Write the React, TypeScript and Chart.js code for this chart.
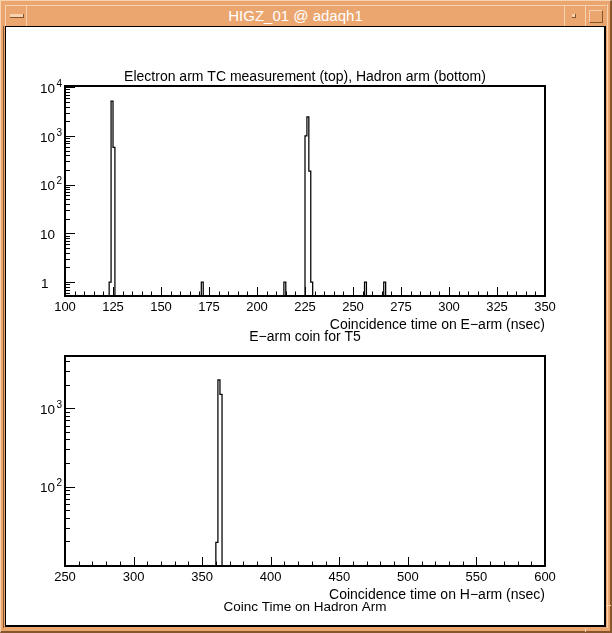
import React, { useEffect, useRef } from "react";
import { Chart, registerables } from "chart.js";

Chart.register(...registerables);

// ---------- data ----------
// Top histogram (E-arm coincidence time, 1 ns bins): non-empty bins
const topBinLow = [123, 124, 125, 171, 214, 225, 226, 227, 228, 256, 266];
const topBinCount = [1, 5200, 585, 1, 1, 1000, 2450, 190, 1, 1, 1];
const topBinWidth = 1;

// Bottom histogram (H-arm coincidence time): non-empty bins
const bottomBinLow = [360, 361.5, 363];
const bottomBinCount = [19.5, 2300, 1510];
const bottomBinWidth = 1.5;

// Axis ticks / labels
const topXTickValues = [100, 125, 150, 175, 200, 225, 250, 275, 300, 325, 350];
const topXTickLabels = ["100", "125", "150", "175", "200", "225", "250", "275", "300", "325", "350"];
const topYTickValues = [1, 10, 100, 1000, 10000];
const topYTickLabels = ["1", "10", "10^2", "10^3", "10^4"];

const bottomXTickValues = [250, 300, 350, 400, 450, 500, 550, 600];
const bottomXTickLabels = ["250", "300", "350", "400", "450", "500", "550", "600"];
const bottomYTickValues = [100, 1000];
const bottomYTickLabels = ["10^2", "10^3"];

// Texts
const windowTitle = "HIGZ_01 @ adaqh1";
const topTitle = "Electron arm TC measurement (top), Hadron arm (bottom)";
const topAxisTitle = "Coincidence time on E\u2212arm (nsec)";
const bottomTitle = "E\u2212arm coin for T5";
const bottomAxisTitle = "Coincidence time on H\u2212arm (nsec)";
const bottomCaption = "Coinc Time on Hadron Arm";

const FONT = '"Liberation Sans", Helvetica, Arial, sans-serif';

type TextSpec = { text: string; align: "center" | "right"; dy: number; from: "top" | "bottom"; size: number };

type Spec = {
  binLow: number[];
  binCount: number[];
  binWidth: number;
  xMin: number;
  xMax: number;
  yMin: number;
  yMax: number;
  xMinorStep: number;
  xTickValues: number[];
  xTickLabels: string[];
  yTickValues: number[];
  yTickLabels: string[];
  padding: { left: number; right: number; top: number; bottom: number };
  texts: TextSpec[];
  tickLabelDy: number;
};

function buildOutline(lows: number[], counts: number[], width: number, base: number) {
  const pts: { x: number; y: number }[] = [];
  for (let i = 0; i < lows.length; i++) {
    const lo = lows[i];
    const hi = lo + width;
    const contiguousPrev = i > 0 && Math.abs(lows[i - 1] + width - lo) < 1e-9;
    if (!contiguousPrev) pts.push({ x: lo, y: base });
    pts.push({ x: lo, y: counts[i] });
    pts.push({ x: hi, y: counts[i] });
    const contiguousNext = i < lows.length - 1 && Math.abs(hi - lows[i + 1]) < 1e-9;
    if (!contiguousNext) pts.push({ x: hi, y: base });
  }
  return pts;
}

function minorLogTicks(min: number, max: number) {
  const out: number[] = [];
  for (let e = Math.floor(Math.log10(min)); e <= Math.ceil(Math.log10(max)); e++) {
    for (let m = 2; m <= 9; m++) {
      const v = m * Math.pow(10, e);
      if (v > min && v < max) out.push(v);
    }
  }
  return out;
}

function makePlugin(spec: Spec) {
  return {
    id: "higzDecor",
    afterDraw(chart: any) {
      const { ctx, chartArea: a, scales } = chart;
      const xs = scales.x;
      const ys = scales.y;
      ctx.save();
      ctx.strokeStyle = "#000";
      ctx.fillStyle = "#000";
      ctx.lineWidth = 1;
      ctx.beginPath();
      // x ticks
      for (let v = spec.xMin; v <= spec.xMax + 1e-9; v += spec.xMinorStep) {
        const px = Math.round(xs.getPixelForValue(v)) + 0.5;
        const major = spec.xTickValues.some((t) => Math.abs(t - v) < 1e-9);
        ctx.moveTo(px, a.bottom);
        ctx.lineTo(px, a.bottom - (major ? 9 : 4.5));
      }
      // y ticks
      for (const v of minorLogTicks(spec.yMin, spec.yMax)) {
        const py = Math.round(ys.getPixelForValue(v)) + 0.5;
        ctx.moveTo(a.left, py);
        ctx.lineTo(a.left + 5, py);
      }
      for (const v of spec.yTickValues) {
        const py = Math.round(ys.getPixelForValue(v)) + 0.5;
        ctx.moveTo(a.left, py);
        ctx.lineTo(a.left + 10, py);
      }
      ctx.stroke();
      // frame
      ctx.lineWidth = 2;
      ctx.strokeRect(a.left, a.top, a.right - a.left, a.bottom - a.top);

      // x tick labels
      ctx.font = `13px ${FONT}`;
      ctx.textBaseline = "middle";
      ctx.textAlign = "center";
      spec.xTickValues.forEach((v, i) => {
        ctx.fillText(spec.xTickLabels[i], xs.getPixelForValue(v), a.bottom + spec.tickLabelDy);
      });
      // y tick labels
      ctx.textAlign = "left";
      spec.yTickValues.forEach((v, i) => {
        const py = ys.getPixelForValue(v);
        const [base, exp] = spec.yTickLabels[i].split("^");
        const lx = a.left - 25;
        ctx.font = `13.5px ${FONT}`;
        ctx.fillText(base, base === "1" ? lx + 1 : lx, py + 2);
        if (exp) {
          const w = ctx.measureText(base).width;
          ctx.font = `10px ${FONT}`;
          ctx.fillText(exp, lx + w + 1.5, py - 3);
        }
      });
      // titles
      for (const t of spec.texts) {
        ctx.font = `${t.size}px ${FONT}`;
        const y = (t.from === "top" ? a.top : a.bottom) + t.dy;
        if (t.align === "center") {
          ctx.textAlign = "center";
          ctx.fillText(t.text, (a.left + a.right) / 2, y);
        } else {
          ctx.textAlign = "right";
          ctx.fillText(t.text, a.right, y);
        }
      }
      ctx.restore();
    },
  };
}

function Histo({ spec, left, top, width, height }: { spec: Spec; left: number; top: number; width: number; height: number }) {
  const ref = useRef<HTMLCanvasElement | null>(null);
  useEffect(() => {
    if (!ref.current) return;
    const data = buildOutline(spec.binLow, spec.binCount, spec.binWidth, spec.yMin);
    const chart = new Chart(ref.current, {
      type: "line",
      data: {
        datasets: [
          {
            data,
            borderColor: "#000",
            borderWidth: 1.25,
            pointRadius: 0,
            fill: false,
            tension: 0,
          },
        ],
      },
      options: {
        animation: false,
        responsive: false,
        devicePixelRatio: 1,
        layout: { padding: spec.padding },
        plugins: { legend: { display: false }, tooltip: { enabled: false }, title: { display: false } },
        scales: {
          x: { type: "linear", min: spec.xMin, max: spec.xMax, display: false },
          y: { type: "logarithmic", min: spec.yMin, max: spec.yMax, display: false },
        },
      },
      plugins: [makePlugin(spec)],
    } as any);
    return () => chart.destroy();
  }, [spec]);
  return (
    <canvas
      ref={ref}
      width={width}
      height={height}
      style={{ position: "absolute", left, top, width, height }}
    />
  );
}

const topSpec: Spec = {
  binLow: topBinLow,
  binCount: topBinCount,
  binWidth: topBinWidth,
  xMin: 100,
  xMax: 350,
  yMin: 0.516,
  yMax: 10600,
  xMinorStep: 5,
  xTickValues: topXTickValues,
  xTickLabels: topXTickLabels,
  yTickValues: topYTickValues,
  yTickLabels: topYTickLabels,
  padding: { left: 59, right: 59, top: 58, bottom: 44 },
  tickLabelDy: 11,
  texts: [
    { text: topTitle, align: "center", dy: -9, from: "top", size: 14 },
    { text: topAxisTitle, align: "right", dy: 29, from: "bottom", size: 14 },
  ],
};

const bottomSpec: Spec = {
  binLow: bottomBinLow,
  binCount: bottomBinCount,
  binWidth: bottomBinWidth,
  xMin: 250,
  xMax: 600,
  yMin: 9.72,
  yMax: 4650,
  xMinorStep: 10,
  xTickValues: bottomXTickValues,
  xTickLabels: bottomXTickLabels,
  yTickValues: bottomYTickValues,
  yTickLabels: bottomYTickLabels,
  padding: { left: 59, right: 59, top: 26, bottom: 59 },
  tickLabelDy: 11,
  texts: [
    { text: bottomTitle, align: "center", dy: -19, from: "top", size: 14 },
    { text: bottomAxisTitle, align: "right", dy: 29.5, from: "bottom", size: 14 },
    { text: bottomCaption, align: "center", dy: 41, from: "bottom", size: 13.5 },
  ],
};

const LIGHT = "#F8D2AE";
const DARK = "#85552C";
const ORANGE = "#EBA66F";

export default function App() {
  const abs = (s: React.CSSProperties): React.CSSProperties => ({ position: "absolute", boxSizing: "border-box", ...s });
  return (
    <div
      style={{
        position: "fixed",
        left: 0,
        top: 0,
        width: 612,
        height: 633,
        background: ORANGE,
        overflow: "hidden",
        fontFamily: FONT,
      }}
    >
      {/* outer bevel */}
      <div style={abs({ left: 0, top: 0, width: 612, height: 633, borderTop: `1px solid ${LIGHT}`, borderLeft: `1px solid ${LIGHT}`, borderRight: `2px solid ${DARK}`, borderBottom: `2px solid ${DARK}` })} />
      <div style={abs({ left: 3, top: 26, width: 1, height: 602, background: DARK })} />
      <div style={abs({ left: 607, top: 4, width: 1, height: 624, background: LIGHT })} />
      {/* title bar */}
      <div style={abs({ left: 5, top: 5, width: 601, height: 21, borderTop: `1px solid ${LIGHT}`, borderLeft: `1px solid ${LIGHT}` })} />
      <div style={abs({ left: 26, top: 5, width: 1, height: 21, background: LIGHT })} />
      <div style={abs({ left: 564, top: 5, width: 1, height: 21, background: LIGHT })} />
      <div style={abs({ left: 585, top: 5, width: 1, height: 21, background: LIGHT })} />
      <div style={abs({ left: 10, top: 14, width: 14, height: 4, background: LIGHT, borderRight: `1px solid ${DARK}`, borderBottom: `1px solid ${DARK}` })} />
      <div style={abs({ left: 572, top: 14, width: 4, height: 4, background: LIGHT, borderRight: `1px solid ${DARK}`, borderBottom: `1px solid ${DARK}` })} />
      <div style={abs({ left: 589, top: 10, width: 14, height: 13, borderTop: `1px solid ${LIGHT}`, borderLeft: `1px solid ${LIGHT}`, borderRight: `1px solid ${DARK}`, borderBottom: `1px solid ${DARK}` })} />
      <div
        style={abs({
          left: 27,
          top: 5,
          width: 537,
          height: 21,
          lineHeight: "21px",
          textAlign: "center",
          color: "#fff",
          fontSize: 15,
          whiteSpace: "nowrap",
        })}
      >
        {windowTitle}
      </div>
      {/* resize notches */}
      <div style={abs({ left: 585, top: 628, width: 1, height: 4, background: LIGHT })} />
      <div style={abs({ left: 606, top: 605, width: 5, height: 1, background: LIGHT })} />
      {/* white drawing area */}
      <div
        style={abs({
          left: 5,
          top: 26,
          width: 601,
          height: 601,
          background: "#fff",
          borderTop: "1px solid #000",
          borderLeft: "1px solid #000",
          borderRight: "2px solid #000",
          borderBottom: "2px solid #000",
        })}
      />
      <Histo spec={topSpec} left={6} top={28} width={598} height={312} />
      <Histo spec={bottomSpec} left={6} top={330} width={598} height={295} />
    </div>
  );
}
